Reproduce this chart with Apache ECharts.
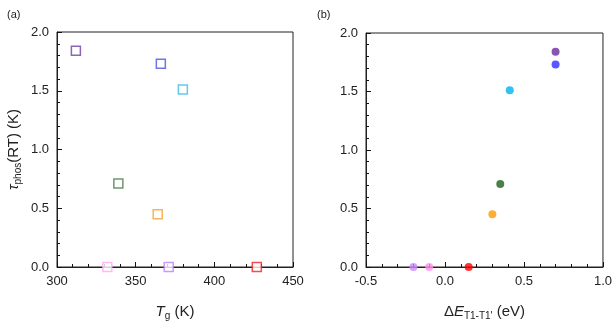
<!DOCTYPE html>
<html>
<head>
<meta charset="utf-8">
<script src="https://cdn.jsdelivr.net/npm/echarts@6/dist/echarts.min.js"></script>
<style>
html, body { margin: 0; padding: 0; background: #fff; }
#chart { width: 615px; height: 326px; }
</style>
</head>
<body>
<div id="chart"></div>
<script>
// 数据：每个化合物一个颜色
var colorsA = ['#7040A8', '#5050E0', '#40B8E8', '#4A7C4A', '#F5A030', '#FFA8F8', '#C080F8', '#F02020'];
var colorsB = ['#6A2C9C', '#2E2EFF', '#00B0F0', '#1E601E', '#FF9900', '#FF90F0', '#CC88FF', '#FF0000'];
var tg = [312, 366, 380, 339, 364, 332, 371, 427];          // Tg (K)
var dE = [0.70, 0.70, 0.41, 0.35, 0.30, -0.10, -0.20, 0.15]; // ΔE T1-T1' (eV)
var tau = [1.84, 1.73, 1.51, 0.71, 0.45, 0, 0, 0];           // τphos(RT)

var font = 'Liberation Sans, Arial, sans-serif';

function makeAxis(min, max, interval, gridIndex, decimals) {
    return {
        gridIndex: gridIndex,
        min: min,
        max: max,
        interval: interval,
        axisLine: { show: true, onZero: false, lineStyle: { color: '#222', width: 1 } },
        axisTick: { show: true, inside: true, length: 5, lineStyle: { color: '#111', width: 1 } },
        minorTick: { show: true, splitNumber: 5, length: 3, lineStyle: { color: '#111', width: 1 } },
        splitLine: { show: false },
        axisLabel: {
            color: '#222', fontSize: 13, fontFamily: font, margin: 8,
            formatter: function (v) { return decimals ? v.toFixed(decimals) : String(v); }
        }
    };
}

function buildSeries(xs, colors, symbol, size, hollow, idx) {
    var data = [];
    for (var i = 0; i < xs.length; i++) {
        data.push({
            value: [xs[i], tau[i]],
            itemStyle: hollow
                ? { color: '#fff', borderColor: colors[i], borderWidth: 1.5 }
                : { color: colors[i] }
        });
    }
    return {
        type: 'scatter',
        xAxisIndex: idx,
        yAxisIndex: idx,
        symbol: symbol,
        symbolSize: size,
        data: data,
        clip: false,
        z: 3
    };
}

var nameStyle = {
    color: '#222', fontSize: 15, fontFamily: font,
    rich: {
        i: { fontStyle: 'italic', fontSize: 15, fontFamily: font, color: '#222' },
        sub: { fontSize: 10, fontFamily: font, color: '#222', verticalAlign: 'bottom', padding: [9, 0, 0, 0] }
    }
};

var xA = makeAxis(300, 450, 50, 0, 0);
xA.name = '{i|T}{sub|g} (K)';
xA.nameLocation = 'middle';
xA.nameGap = 35;
xA.nameTextStyle = nameStyle;

var xB = makeAxis(-0.5, 1.0, 0.5, 1, 1);
xB.name = 'Δ{i|E}{sub|T1-T1\'} (eV)';
xB.nameLocation = 'middle';
xB.nameGap = 35;
xB.nameTextStyle = nameStyle;

var yA = makeAxis(0, 2, 0.5, 0, 1);
yA.name = '{i|τ}{sub|phos}(RT) (K)';
yA.nameLocation = 'middle';
yA.nameGap = 34;
yA.nameTextStyle = nameStyle;

var yB = makeAxis(0, 2, 0.5, 1, 1);

var option = {
    animation: false,
    backgroundColor: '#fff',
    title: [
        { text: '(a)', left: 2, top: 4, textStyle: { fontSize: 11, fontWeight: 'normal', fontFamily: font, color: '#222' } },
        { text: '(b)', left: 312, top: 4, textStyle: { fontSize: 11, fontWeight: 'normal', fontFamily: font, color: '#222' } }
    ],
    grid: [
        { left: 57, top: 32, width: 236, height: 237, show: true, borderColor: '#222', borderWidth: 1, backgroundColor: 'transparent' },
        { left: 366, top: 33, width: 241, height: 236, show: true, borderColor: '#222', borderWidth: 1, backgroundColor: 'transparent' }
    ],
    xAxis: [xA, xB],
    yAxis: [yA, yB],
    series: [
        buildSeries(tg, colorsA, 'rect', 9, true, 0),
        buildSeries(dE, colorsB, 'circle', 8, false, 1)
    ]
};

var myChart = echarts.init(document.getElementById('chart'));
myChart.setOption(option);
</script>
</body>
</html>
